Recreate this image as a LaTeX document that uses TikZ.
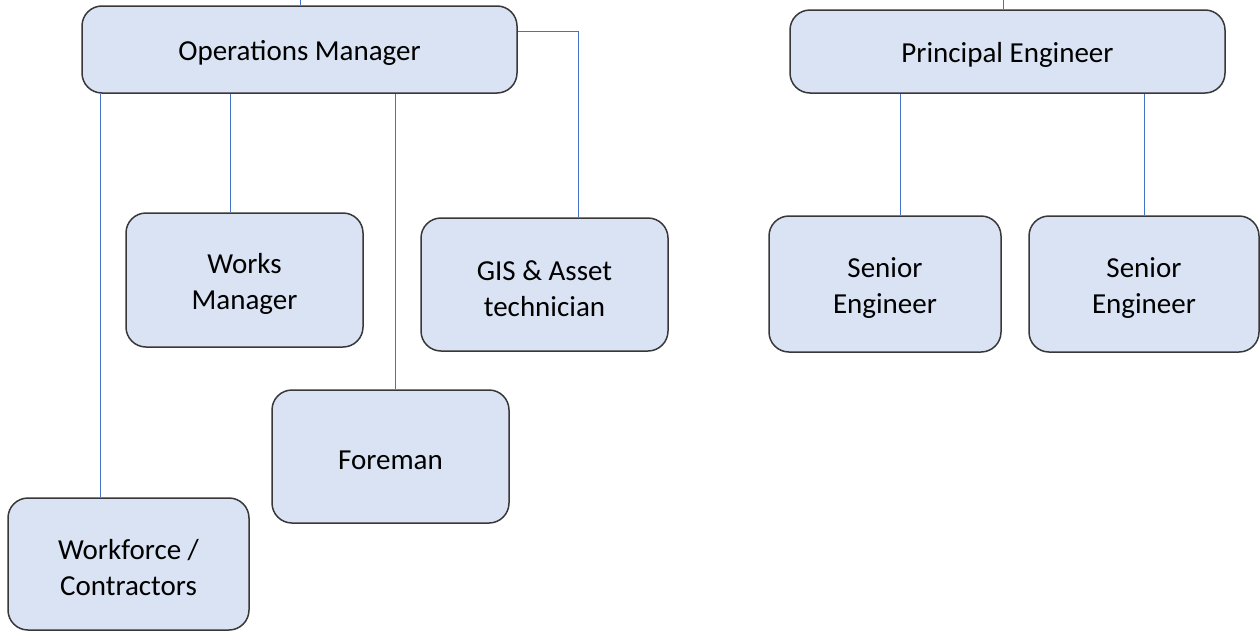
\documentclass[tikz,border=0pt]{standalone}
\usepackage{fontspec}
\setmainfont{Carlito}
\usetikzlibrary{positioning}

\definecolor{boxfill}{HTML}{DAE3F3}
\definecolor{boxline}{HTML}{383838}
\definecolor{linkblue}{HTML}{4472C4}

\tikzset{
    role/.style={rectangle, rounded corners=20pt, draw=boxline, line width=1.5pt,
        fill=boxfill, align=center, inner sep=0pt,
        font=\fontsize{29}{36}\selectfont},
    oneline/.style={role, text height=27pt},
    twoline/.style={role, text height=64pt},
    link/.style={draw=linkblue, line width=0.9pt}
}

\begin{document}
\begin{tikzpicture}[x=1pt, y=-1pt]
    \useasboundingbox (0,0) rectangle (1260,632);

    %-----Roles-----
    % Operations Manager
    \node [oneline, minimum width=435pt, minimum height=87pt] (opsman) at (299.5,49.5) {Operations Manager};

    % Principal Engineer
    \node [oneline, minimum width=435pt, minimum height=83pt] (princeng) at (1007.5,51.5) {Principal Engineer};

    % Works Manager
    \node [twoline, minimum width=237pt, minimum height=134pt] (worksman) at (244.5,280) {Works\\Manager};

    % GIS and Asset technician
    \node [twoline, minimum width=247pt, minimum height=133pt] (gistech) at (544.5,284.5) {GIS \& Asset\\technician};

    % Foreman
    \node [oneline, minimum width=237pt, minimum height=133pt] (foreman) at (390.5,456.5) {Foreman};

    % Workforce / Contractors
    \node [twoline, minimum width=241pt, minimum height=132pt] (workforce) at (128.5,564) {Workforce /\\Contractors};

    % Senior Engineers
    \node [twoline, minimum width=232pt, minimum height=136pt] (seneng1) at (885,284) {Senior\\Engineer};
    \node [twoline, minimum width=230pt, minimum height=136pt] (seneng2) at (1144,284) {Senior\\Engineer};

    %-----Links-----
    \coordinate (opstop) at (300,0);
    \coordinate (princtop) at (1003,0);
    \coordinate (wfx) at (100,0);
    \coordinate (wmx) at (230,0);
    \coordinate (fmx) at (395,0);
    \coordinate (gisbend) at (578,31);
    \coordinate (se1x) at (900,0);
    \coordinate (se2x) at (1144,0);

    % lines from above
    \draw [link] (opstop) -- (opstop |- opsman.north);
    \draw [link] (princtop) -- (princtop |- princeng.north);

    % Operations Manager reports
    \draw [link] (wfx |- opsman.south) -- (wfx |- workforce.north);
    \draw [link] (wmx |- opsman.south) -- (wmx |- worksman.north);
    \draw [link] (fmx |- opsman.south) -- (fmx |- foreman.north);
    \draw [link] (gisbend -| opsman.east) -- (gisbend) -- (gisbend |- gistech.north);

    % Principal Engineer reports
    \draw [link] (se1x |- princeng.south) -- (se1x |- seneng1.north);
    \draw [link] (se2x |- princeng.south) -- (se2x |- seneng2.north);

\end{tikzpicture}
\end{document}
